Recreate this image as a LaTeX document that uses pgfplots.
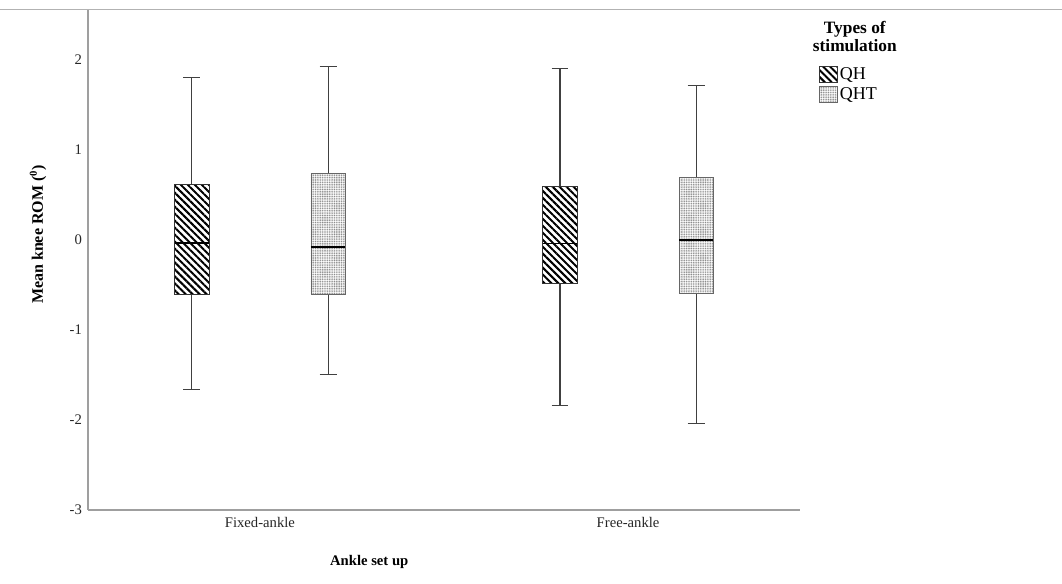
\documentclass[border=0pt]{standalone}
\usepackage{fontspec}
\setmainfont{Liberation Serif}
\usepackage{pgfplots}
\pgfplotsset{compat=1.18}
\usepgfplotslibrary{statistics}
\usetikzlibrary{patterns.meta}
\tikzset{
  qh/.style={draw=black!80, pattern={Lines[angle=-45,distance=3.7pt,line width=1.5pt]}, pattern color=black},
  qht/.style={draw=black!60, pattern={Dots[distance=1.3pt,radius=0.5pt]}, pattern color=gray!90},
}
\begin{document}
\begin{tikzpicture}
\useasboundingbox (-66pt,-54.75pt) rectangle (730.5pt,382.5pt);
\begin{axis}[
  scale only axis, width=534pt, height=375.75pt,
  xmin=-0.467, xmax=1.467, ymin=-3, ymax=2.567,
  axis x line*=bottom, axis y line*=left,
  axis line style={draw=gray!75, line width=0.8pt},
  major tick length=0pt,
  xtick={0,1}, xticklabels={Fixed-ankle, Free-ankle},
  ytick={-3,-2,-1,0,1,2},
  /pgf/number format/assume math mode=true,
  tick label style={font=\fontsize{11}{13}\selectfont, text=black!85},
  xticklabel style={yshift=-2pt},
  yticklabel style={xshift=-1pt},
  xlabel={\textbf{Ankle set up}},
  ylabel={\textbf{Mean knee ROM (\textsuperscript{0})}},
  every axis x label/.style={at={(axis description cs:0.395,0)}, anchor=center, yshift=-39pt, font=\fontsize{11}{13}\selectfont},
  every axis y label/.style={at={(axis description cs:-0.0702,0.55)}, rotate=90, anchor=center, font=\fontsize{12}{14}\selectfont},
  boxplot/draw direction=y,
  legend style={at={(rel axis cs:1.026,0.888)}, anchor=north west, draw=none, fill=none, inner sep=0pt, row sep=1.5pt,
    font=\fontsize{13.5}{15}\selectfont, nodes={inner sep=1.5pt}},
  legend cell align=left,
  legend image code/.code={\draw[#1] (0pt,-6pt) rectangle (14pt,6pt);},
  clip=false,
]
\addlegendimage{qh}
\addlegendentry{QH}
\addlegendimage{qht}
\addlegendentry{QHT}

\addplot+[forget plot, mark=none, solid, draw=black!75, line width=0.8pt,
  boxplot prepared={draw position=-0.185, lower whisker=-1.66, lower quartile=-0.60,
    median=-0.03, upper quartile=0.62, upper whisker=1.81, box extend=0.093, whisker extend=0.046},
  boxplot/every box/.style={qh, line width=0.6pt},
  boxplot/every median/.style={draw=black, line width=1.3pt},
] coordinates {};
\addplot+[forget plot, mark=none, solid, draw=black!75, line width=0.8pt,
  boxplot prepared={draw position=0.185, lower whisker=-1.49, lower quartile=-0.60,
    median=-0.08, upper quartile=0.74, upper whisker=1.93, box extend=0.093, whisker extend=0.046},
  boxplot/every box/.style={qht, line width=0.6pt},
  boxplot/every median/.style={draw=black, line width=1.3pt},
] coordinates {};
\addplot+[forget plot, mark=none, solid, draw=black!75, line width=0.8pt,
  boxplot prepared={draw position=0.815, lower whisker=-1.84, lower quartile=-0.48,
    median=-0.04, upper quartile=0.60, upper whisker=1.91, box extend=0.093, whisker extend=0.046},
  boxplot/every box/.style={qh, line width=0.6pt},
  boxplot/every median/.style={draw=black, line width=1.3pt},
] coordinates {};
\addplot+[forget plot, mark=none, solid, draw=black!75, line width=0.8pt,
  boxplot prepared={draw position=1.185, lower whisker=-2.04, lower quartile=-0.59,
    median=0.00, upper quartile=0.70, upper whisker=1.72, box extend=0.093, whisker extend=0.046},
  boxplot/every box/.style={qht, line width=0.6pt},
  boxplot/every median/.style={draw=black, line width=1.3pt},
] coordinates {};

\node[font=\bfseries\fontsize{13}{13.5}\selectfont, align=center, inner sep=0pt] at (rel axis cs:1.077,0.946) {Types of\\stimulation};
\end{axis}
\draw[gray!60, line width=0.6pt] (-66pt,375.75pt) -- (730.5pt,375.75pt);
\end{tikzpicture}
\end{document}
